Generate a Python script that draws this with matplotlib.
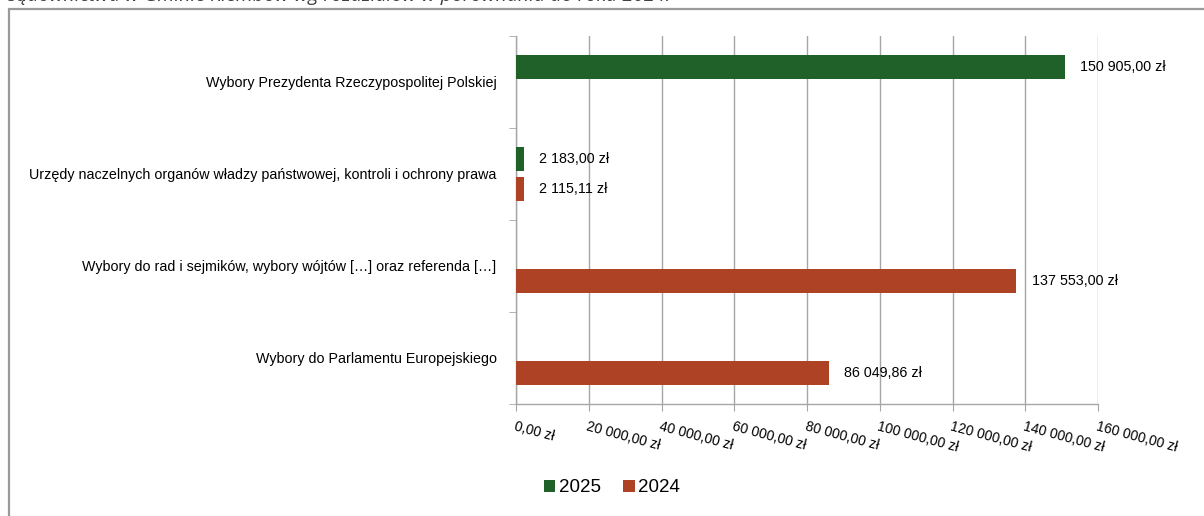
import numpy as np
import matplotlib
matplotlib.use('Agg')
import matplotlib.pyplot as plt
from matplotlib.patches import Rectangle

categories = ['Wybory Prezydenta Rzeczypospolitej Polskiej',
              'Urzędy naczelnych organów władzy państwowej, kontroli i ochrony prawa',
              'Wybory do rad i sejmików, wybory wójtów […] oraz referenda […]',
              'Wybory do Parlamentu Europejskiego']
values_2025 = [150905.00, 2183.00, np.nan, np.nan]
values_2024 = [np.nan, 2115.11, 137553.00, 86049.86]
series_names = ['2025', '2024']
xticks = [0, 20000, 40000, 60000, 80000, 100000, 120000, 140000, 160000]
title_text = 'sądownictwa w Gminie Klembów wg rozdziałów w porównaniu do roku 2024.'

green = '#1f6129'
red = '#ae4224'
grid_col = '#a6a6a6'


def fmt_pln(v):
    # 150905.0 -> "150 905,00 zł"
    s = f'{v:,.2f}'.replace(',', ' ').replace('.', ',')
    return s + ' zł'


plt.rcParams['font.family'] = ['Liberation Sans', 'DejaVu Sans']

fig = plt.figure(figsize=(12.04, 5.16), dpi=100)
ax = fig.add_axes([516 / 1204, 1 - 404 / 516, 582 / 1204, 368 / 516])

# outer frame of the original chart area
fig.patches.append(Rectangle((8.5 / 1204, -0.2), 1.2, 1.2 - 9 / 516,
                             transform=fig.transFigure, fill=False,
                             edgecolor='#9a9a9a', linewidth=1.6))
# caption of the page, cut off at the top in the original too
fig.text(8 / 1204, 1 - 1 / 516, title_text, fontsize=14, style='italic',
         color='#404040', va='baseline', ha='left',
         family=['Open Sans', 'DejaVu Sans'])

y = np.arange(len(categories))
h = 0.26
off = 0.165
b25 = ax.barh(y - off, values_2025, height=h, color=green, label=series_names[0], zorder=3)
b24 = ax.barh(y + off, values_2024, height=h, color=red, label=series_names[1], zorder=3)

for bars, vals in ((b25, values_2025), (b24, values_2024)):
    for rect, v in zip(bars, vals):
        if np.isnan(v):
            continue
        ax.annotate(fmt_pln(v), (v, rect.get_y() + rect.get_height() / 2),
                    xytext=(11, 0), textcoords='offset points',
                    va='center', ha='left', fontsize=10.3, color='black')

ax.set_xlim(0, 160000)
ax.set_ylim(len(categories) - 0.5, -0.5)
ax.set_xticks(xticks)
ax.set_xticklabels([fmt_pln(t) for t in xticks], rotation=-15,
                   ha='left', va='top', rotation_mode='anchor', fontsize=10)
ax.tick_params(axis='x', length=5, color=grid_col, pad=6)

ax.set_yticks(y)
ax.set_yticklabels(categories, fontsize=10.3)
ax.tick_params(axis='y', length=0, pad=14)
ax.set_yticks(np.arange(-0.5, len(categories)), minor=True)
ax.tick_params(axis='y', which='minor', length=5, color=grid_col)

ax.grid(axis='x', color=grid_col, linewidth=1, zorder=0)
for s in ('top', 'right'):
    ax.spines[s].set_visible(False)
for s in ('left', 'bottom'):
    ax.spines[s].set_color(grid_col)
    ax.spines[s].set_linewidth(1)

leg = fig.legend(handles=[b25, b24], labels=series_names, loc='center',
                 bbox_to_anchor=(612 / 1204, 1 - 488 / 516), ncol=2,
                 frameon=False, fontsize=13.5, handlelength=0.6,
                 handleheight=0.6, handletextpad=0.2, columnspacing=1.2)

fig.savefig('out.png', dpi=100)
